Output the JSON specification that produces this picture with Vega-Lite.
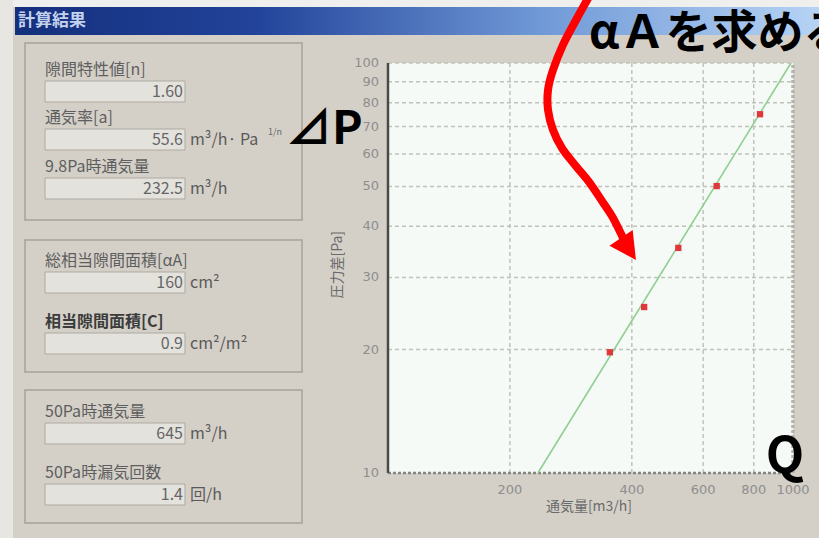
{
  "$schema": "https://vega.github.io/schema/vega-lite/v6.json",
  "width": 819,
  "height": 538,
  "autosize": {"type": "none"},
  "padding": 0,
  "background": "#d4d0c8",
  "config": {"view": {"stroke": null}, "font": "Noto Sans CJK JP"},
  "datasets": {
    "form": [
      {"label": "隙間特性値[n]", "value": "1.60", "unit": "", "top": 70},
      {"label": "通気率[a]", "value": "55.6", "unit": "m³/h· Pa", "top": 118},
      {"label": "9.8Pa時通気量", "value": "232.5", "unit": "m³/h", "top": 167},
      {"label": "総相当隙間面積[αA]", "value": "160", "unit": "cm²", "top": 261},
      {"label": "相当隙間面積[C]", "value": "0.9", "unit": "cm²/m²", "top": 322},
      {"label": "50Pa時通気量", "value": "645", "unit": "m³/h", "top": 412},
      {"label": "50Pa時漏気回数", "value": "1.4", "unit": "回/h", "top": 473}
    ],
    "measured": [
      {"Q": 353, "dP": 19.7},
      {"Q": 429, "dP": 25.4},
      {"Q": 521, "dP": 35.4},
      {"Q": 648, "dP": 50.1},
      {"Q": 829, "dP": 75.0}
    ],
    "fit": [{"Q": 234.5, "dP": 10}, {"Q": 988.6, "dP": 100}],
    "xticks": [{"Q": 200}, {"Q": 400}, {"Q": 600}, {"Q": 800}, {"Q": 1000}],
    "yticks": [{"dP": 10}, {"dP": 20}, {"dP": 30}, {"dP": 40}, {"dP": 50}, {"dP": 60}, {"dP": 70}, {"dP": 80}, {"dP": 90}, {"dP": 100}],
    "vgrid": [{"Q": 200}, {"Q": 400}, {"Q": 600}, {"Q": 800}],
    "hgrid": [{"dP": 20}, {"dP": 30}, {"dP": 40}, {"dP": 50}, {"dP": 60}, {"dP": 70}, {"dP": 80}, {"dP": 90}, {"dP": 100}],
    "arrow": [
      {"ord": 1, "Q": 315.3, "dP": 146.5},
      {"ord": 2, "Q": 291.2, "dP": 127.3},
      {"ord": 3, "Q": 270.4, "dP": 110.7},
      {"ord": 4, "Q": 255.5, "dP": 96.1},
      {"ord": 5, "Q": 248.4, "dP": 86.0},
      {"ord": 6, "Q": 248.4, "dP": 76.8},
      {"ord": 7, "Q": 255.5, "dP": 68.7},
      {"ord": 8, "Q": 268.9, "dP": 62.0},
      {"ord": 9, "Q": 289.5, "dP": 56.4},
      {"ord": 10, "Q": 313.5, "dP": 51.3},
      {"ord": 11, "Q": 341.5, "dP": 45.3},
      {"ord": 12, "Q": 359.4, "dP": 41.9},
      {"ord": 13, "Q": 382.6, "dP": 37.0}
    ],
    "one": [{}]
  },
  "layer": [
    {
      "layer": [
        {
          "data": {"name": "one"},
          "mark": {"type": "rect", "color": "#efefed"},
          "encoding": {
            "x": {"datum": 0, "type": "quantitative", "scale": {"domain": [0, 819], "range": [0, 819], "zero": false, "nice": false}, "axis": null},
            "x2": {"datum": 819},
            "y": {"datum": 0, "type": "quantitative", "scale": {"domain": [0, 538], "range": [0, 538], "zero": false, "nice": false}, "axis": null},
            "y2": {"datum": 7}
          }
        },
        {
          "data": {"name": "one"},
          "mark": {"type": "rect", "color": "#e8e6e2"},
          "encoding": {
            "x": {"datum": 0, "type": "quantitative", "axis": null},
            "x2": {"datum": 13},
            "y": {"datum": 0, "type": "quantitative", "axis": null},
            "y2": {"datum": 538}
          }
        },
        {
          "data": {"name": "one"},
          "mark": {"type": "rect", "color": {"gradient": "linear", "x1": 0, "y1": 0, "x2": 1, "y2": 0, "stops": [{"offset": 0, "color": "#142f7c"}, {"offset": 0.3, "color": "#22439a"}, {"offset": 0.65, "color": "#6f98d6"}, {"offset": 1, "color": "#b6d3f4"}]}},
          "encoding": {
            "x": {"datum": 15, "type": "quantitative", "axis": null},
            "x2": {"datum": 819},
            "y": {"datum": 7, "type": "quantitative", "axis": null},
            "y2": {"datum": 35}
          }
        },
        {
          "data": {"name": "one"},
          "mark": {"type": "text", "text": "計算結果", "align": "left", "baseline": "middle", "fontSize": 17, "fontWeight": "bold", "color": "#c4d2ef"},
          "encoding": {
            "x": {"datum": 18, "type": "quantitative", "axis": null},
            "y": {"datum": 21, "type": "quantitative", "axis": null}
          }
        },
        {
          "data": {"name": "one"},
          "mark": {"type": "rect", "fillOpacity": 0, "stroke": "#a6a29a", "strokeWidth": 1.5},
          "encoding": {
            "x": {"datum": 25, "type": "quantitative", "axis": null},
            "x2": {"datum": 302},
            "y": {"datum": 43, "type": "quantitative", "axis": null},
            "y2": {"datum": 220}
          }
        },
        {
          "data": {"name": "one"},
          "mark": {"type": "rect", "fillOpacity": 0, "stroke": "#a6a29a", "strokeWidth": 1.5},
          "encoding": {
            "x": {"datum": 25, "type": "quantitative", "axis": null},
            "x2": {"datum": 302},
            "y": {"datum": 240, "type": "quantitative", "axis": null},
            "y2": {"datum": 372}
          }
        },
        {
          "data": {"name": "one"},
          "mark": {"type": "rect", "fillOpacity": 0, "stroke": "#a6a29a", "strokeWidth": 1.5},
          "encoding": {
            "x": {"datum": 25, "type": "quantitative", "axis": null},
            "x2": {"datum": 302},
            "y": {"datum": 390, "type": "quantitative", "axis": null},
            "y2": {"datum": 523}
          }
        },
        {
          "data": {"name": "form"},
          "mark": {"type": "rect", "fill": "#e4e2dd", "stroke": "#aeaaa2", "strokeWidth": 1, "yOffset": 11, "y2Offset": 32},
          "encoding": {
            "x": {"datum": 45, "type": "quantitative", "axis": null},
            "x2": {"datum": 185},
            "y": {"field": "top", "type": "quantitative", "axis": null},
            "y2": {"field": "top"}
          }
        },
        {
          "data": {"name": "form"},
          "transform": [{"filter": "datum.label !== '相当隙間面積[C]'"}],
          "mark": {"type": "text", "align": "left", "baseline": "middle", "fontSize": 16, "color": "#5e5e5e"},
          "encoding": {
            "x": {"datum": 45, "type": "quantitative", "axis": null},
            "y": {"field": "top", "type": "quantitative", "axis": null},
            "text": {"field": "label"}
          }
        },
        {
          "data": {"name": "form"},
          "transform": [{"filter": "datum.label === '相当隙間面積[C]'"}],
          "mark": {"type": "text", "align": "left", "baseline": "middle", "fontSize": 16, "fontWeight": "bold", "color": "#3c3c3c"},
          "encoding": {
            "x": {"datum": 45, "type": "quantitative", "axis": null},
            "y": {"field": "top", "type": "quantitative", "axis": null},
            "text": {"field": "label"}
          }
        },
        {
          "data": {"name": "form"},
          "mark": {"type": "text", "align": "right", "baseline": "middle", "fontSize": 16, "color": "#666666", "dy": 22},
          "encoding": {
            "x": {"datum": 183, "type": "quantitative", "axis": null},
            "y": {"field": "top", "type": "quantitative", "axis": null},
            "text": {"field": "value"}
          }
        },
        {
          "data": {"name": "form"},
          "mark": {"type": "text", "align": "left", "baseline": "middle", "fontSize": 16, "color": "#5a5a5a", "dy": 22},
          "encoding": {
            "x": {"datum": 190, "type": "quantitative", "axis": null},
            "y": {"field": "top", "type": "quantitative", "axis": null},
            "text": {"field": "unit"}
          }
        },
        {
          "data": {"name": "one"},
          "mark": {"type": "text", "text": "1/n", "align": "left", "baseline": "middle", "fontSize": 9, "color": "#6a6a6a"},
          "encoding": {
            "x": {"datum": 268, "type": "quantitative", "axis": null},
            "y": {"datum": 132, "type": "quantitative", "axis": null}
          }
        }
      ]
    },
    {
      "layer": [
        {
          "data": {"name": "one"},
          "mark": {"type": "rect", "color": "#f5faf7"},
          "encoding": {
            "x": {
              "datum": 100, "type": "quantitative",
              "scale": {"type": "log", "domain": [100, 1000], "range": [388, 793], "nice": false, "zero": false},
              "axis": null
            },
            "x2": {"datum": 1000},
            "y": {
              "datum": 10, "type": "quantitative",
              "scale": {"type": "log", "domain": [10, 100], "range": [473, 63], "nice": false, "zero": false},
              "axis": null
            },
            "y2": {"datum": 100}
          }
        },
        {
          "data": {"name": "vgrid"},
          "mark": {"type": "rule", "color": "#c2c2ba", "strokeWidth": 1.5, "strokeDash": [4, 3]},
          "encoding": {
            "x": {"field": "Q", "type": "quantitative", "axis": null},
            "y": {"datum": 10, "type": "quantitative", "axis": null},
            "y2": {"datum": 100}
          }
        },
        {
          "data": {"name": "hgrid"},
          "mark": {"type": "rule", "color": "#c2c2ba", "strokeWidth": 1.5, "strokeDash": [4, 3]},
          "encoding": {
            "x": {"datum": 100, "type": "quantitative", "axis": null},
            "x2": {"datum": 1000},
            "y": {"field": "dP", "type": "quantitative", "axis": null}
          }
        },
        {
          "data": {"name": "one"},
          "mark": {"type": "rule", "color": "#b4b4ae", "strokeWidth": 3.5, "strokeDash": [3, 2]},
          "encoding": {
            "x": {"datum": 1000, "type": "quantitative", "axis": null},
            "y": {"datum": 10, "type": "quantitative", "axis": null},
            "y2": {"datum": 100}
          }
        },
        {
          "data": {"name": "one"},
          "mark": {"type": "rule", "color": "#858580", "strokeWidth": 2.5, "strokeDash": [3, 2]},
          "encoding": {
            "x": {"datum": 100, "type": "quantitative", "axis": null},
            "x2": {"datum": 1000},
            "y": {"datum": 10, "type": "quantitative", "axis": null}
          }
        },
        {
          "data": {"name": "one"},
          "mark": {"type": "rule", "color": "#4a4a4a", "strokeWidth": 2.5},
          "encoding": {
            "x": {"datum": 100, "type": "quantitative", "axis": null},
            "y": {"datum": 10, "type": "quantitative", "axis": null},
            "y2": {"datum": 100}
          }
        },
        {
          "data": {"name": "xticks"},
          "mark": {"type": "text", "align": "center", "baseline": "middle", "fontSize": 13, "font": "DejaVu Sans", "color": "#8e8e8e"},
          "encoding": {
            "x": {"field": "Q", "type": "quantitative", "axis": null},
            "y": {"datum": 9.09, "type": "quantitative", "axis": null},
            "text": {"field": "Q", "type": "quantitative", "format": "d"}
          }
        },
        {
          "data": {"name": "yticks"},
          "mark": {"type": "text", "align": "right", "baseline": "middle", "fontSize": 13, "font": "DejaVu Sans", "color": "#8e8e8e"},
          "encoding": {
            "x": {"datum": 95.0, "type": "quantitative", "axis": null},
            "y": {"field": "dP", "type": "quantitative", "axis": null},
            "text": {"field": "dP", "type": "quantitative", "format": "d"}
          }
        },
        {
          "data": {"name": "one"},
          "mark": {"type": "text", "text": "通気量[m3/h]", "align": "center", "baseline": "middle", "fontSize": 14, "color": "#6a6a6a"},
          "encoding": {
            "x": {"datum": 313.5, "type": "quantitative", "axis": null},
            "y": {"datum": 8.26, "type": "quantitative", "axis": null}
          }
        },
        {
          "data": {"name": "one"},
          "mark": {"type": "text", "text": "圧力差[Pa]", "align": "center", "baseline": "middle", "fontSize": 14, "color": "#6a6a6a", "angle": 270},
          "encoding": {
            "x": {"datum": 75.2, "type": "quantitative", "axis": null},
            "y": {"datum": 32.2, "type": "quantitative", "axis": null}
          }
        },
        {
          "data": {"name": "fit"},
          "mark": {"type": "line", "color": "#8fcf8f", "strokeWidth": 1.6},
          "encoding": {
            "x": {"field": "Q", "type": "quantitative", "axis": null},
            "y": {"field": "dP", "type": "quantitative", "axis": null}
          }
        },
        {
          "data": {"name": "measured"},
          "mark": {"type": "square", "color": "#e0383a", "opacity": 1, "size": 40},
          "encoding": {
            "x": {"field": "Q", "type": "quantitative", "axis": null},
            "y": {"field": "dP", "type": "quantitative", "axis": null}
          }
        },
        {
          "data": {"name": "arrow"},
          "mark": {"type": "line", "color": "#ff0000", "strokeWidth": 8, "interpolate": "cardinal", "strokeCap": "butt"},
          "encoding": {
            "x": {"field": "Q", "type": "quantitative", "axis": null},
            "y": {"field": "dP", "type": "quantitative", "axis": null},
            "order": {"field": "ord"}
          }
        },
        {
          "data": {"name": "one"},
          "mark": {"type": "point", "shape": "M-1,-0.95L1,-0.95L0,0.95Z", "filled": true, "color": "#ff0000", "opacity": 1, "size": 784, "angle": -34},
          "encoding": {
            "x": {"datum": 392.5, "type": "quantitative", "axis": null},
            "y": {"datum": 35.2, "type": "quantitative", "axis": null}
          }
        },
        {
          "data": {"name": "one"},
          "mark": {"type": "text", "text": "⊿P", "align": "left", "baseline": "middle", "fontSize": 46, "fontWeight": "bold", "color": "#000000"},
          "encoding": {
            "x": {"datum": 56.0, "type": "quantitative", "axis": null},
            "y": {"datum": 68.65, "type": "quantitative", "axis": null}
          }
        },
        {
          "data": {"name": "one"},
          "mark": {"type": "text", "text": "Q", "align": "center", "baseline": "middle", "fontSize": 50, "fontWeight": "bold", "color": "#000000"},
          "encoding": {
            "x": {"datum": 955.5, "type": "quantitative", "axis": null},
            "y": {"datum": 10.88, "type": "quantitative", "axis": null}
          }
        },
        {
          "data": {"name": "one"},
          "mark": {"type": "text", "text": "αＡを求める", "align": "left", "baseline": "middle", "fontSize": 46, "fontWeight": "bold", "color": "#000000"},
          "encoding": {
            "x": {"datum": 313.5, "type": "quantitative", "axis": null},
            "y": {"datum": 117.7, "type": "quantitative", "axis": null}
          }
        }
      ]
    }
  ],
  "resolve": {"scale": {"x": "independent", "y": "independent"}}
}
